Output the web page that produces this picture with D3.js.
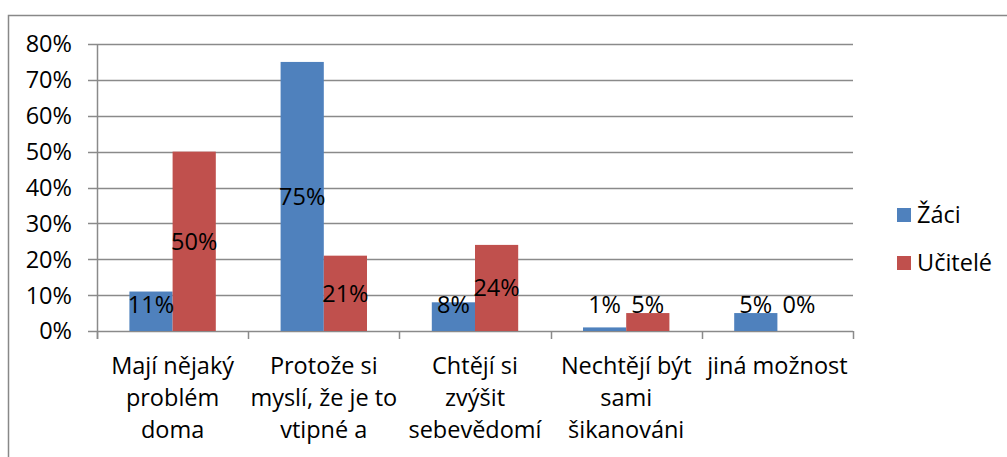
<!DOCTYPE html>
<meta charset="utf-8">
<style>
  body { margin: 0; background: #fff; font-family: "Open Sans", sans-serif; }
  text { fill: #000; }
</style>
<body>
<div id="chart"></div>
<script src="https://d3js.org/d3.v7.min.js"></script>
<script>

// categories (labels already wrapped like the original, last one is cut off there too)
const categories = [
  ["Mají nějaký", "problém", "doma"],
  ["Protože si", "myslí, že je to", "vtipné a"],
  ["Chtějí si", "zvýšit", "sebevědomí"],
  ["Nechtějí být", "sami", "šikanováni"],
  ["jiná možnost"]
];
const seriesNames = ["Žáci", "Učitelé"];
const zaci = [0.11, 0.75, 0.08, 0.01, 0.05];
const ucitele = [0.50, 0.21, 0.24, 0.05, 0.00];
const yTicks = [0, 0.1, 0.2, 0.3, 0.4, 0.5, 0.6, 0.7, 0.8];

const colors = ["#4F81BD", "#C0504D"];
const width = 1007, height = 457;

const svg = d3.select("#chart").append("svg")
  .attr("width", width)
  .attr("height", height)
  .style("font", "23.5px 'Open Sans', sans-serif");

// chart area border
svg.append("rect")
  .attr("x", 8.5).attr("y", 15.5)
  .attr("width", 1100).attr("height", 500)
  .attr("fill", "none")
  .attr("stroke", "#888").attr("stroke-width", 1.5);

const plot = { left: 97, right: 853, top: 44, bottom: 331 };

const x0 = d3.scaleBand()
  .domain(d3.range(categories.length))
  .range([plot.left, plot.right]);

// gap width 150% -> two bars + 1.5 bar widths per band
const x1 = d3.scaleBand()
  .domain([0, 1])
  .range([x0.bandwidth() * 0.75 / 3.5, x0.bandwidth() * 0.75 / 3.5 + x0.bandwidth() * 2 / 3.5]);

const y = d3.scaleLinear().domain([0, 0.8]).range([plot.bottom, plot.top]);

// gridlines
svg.append("g")
  .selectAll("line")
  .data(yTicks)
  .join("line")
  .attr("x1", plot.left - 9).attr("x2", plot.right)
  .attr("y1", d => Math.round(y(d)) + 0.5).attr("y2", d => Math.round(y(d)) + 0.5)
  .attr("stroke", "#8a8a8a").attr("stroke-width", 1.5);

// y tick labels
svg.append("g")
  .selectAll("text")
  .data(yTicks)
  .join("text")
  .attr("x", 72)
  .attr("y", d => y(d))
  .attr("dy", "0.36em")
  .attr("text-anchor", "end")
  .text(d => d3.format(".0%")(d));

// y axis line
svg.append("line")
  .attr("x1", plot.left + 0.5).attr("x2", plot.left + 0.5)
  .attr("y1", plot.top).attr("y2", plot.bottom + 8)
  .attr("stroke", "#8a8a8a").attr("stroke-width", 1.5);

// x tick marks at band boundaries
svg.append("g")
  .selectAll("line")
  .data(d3.range(categories.length + 1))
  .join("line")
  .attr("x1", i => Math.round(plot.left + i * x0.step()) + 0.5)
  .attr("x2", i => Math.round(plot.left + i * x0.step()) + 0.5)
  .attr("y1", plot.bottom).attr("y2", plot.bottom + 8)
  .attr("stroke", "#8a8a8a").attr("stroke-width", 1.5);

// bars
const data = categories.map((c, i) => [zaci[i], ucitele[i]]);
const groups = svg.append("g")
  .selectAll("g")
  .data(data)
  .join("g")
  .attr("transform", (d, i) => `translate(${x0(i)},0)`);

groups.selectAll("rect")
  .data(d => d.map((v, s) => ({ v, s })))
  .join("rect")
  .attr("x", d => x1(d.s))
  .attr("width", x1.bandwidth())
  .attr("y", d => y(d.v))
  .attr("height", d => y(0) - y(d.v))
  .attr("fill", d => colors[d.s]);

// value labels, centred on the bar but kept above the axis
groups.selectAll("text")
  .data(d => d.map((v, s) => ({ v, s })))
  .join("text")
  .attr("x", d => x1(d.s) + x1.bandwidth() / 2)
  .attr("y", d => Math.min(y(d.v / 2), y(0) - 26))
  .attr("dy", "0.36em")
  .attr("text-anchor", "middle")
  .text(d => d3.format(".0%")(d.v));

// category labels
svg.append("g")
  .selectAll("text")
  .data(categories)
  .join("text")
  .attr("text-anchor", "middle")
  .attr("x", (d, i) => x0(i) + x0.bandwidth() / 2)
  .attr("y", 374)
  .selectAll("tspan")
  .data(d => d)
  .join("tspan")
  .attr("x", function () { return this.parentNode.getAttribute("x"); })
  .attr("dy", (d, i) => i === 0 ? 0 : 32)
  .text(d => d);

// legend
const legend = svg.append("g")
  .selectAll("g")
  .data(seriesNames)
  .join("g")
  .attr("transform", (d, i) => `translate(897,${208 + i * 48})`);

legend.append("rect")
  .attr("width", 14).attr("height", 14)
  .attr("fill", (d, i) => colors[i]);

legend.append("text")
  .attr("x", 20)
  .attr("y", 7)
  .attr("dy", "0.36em")
  .text(d => d);

</script>
</body>
